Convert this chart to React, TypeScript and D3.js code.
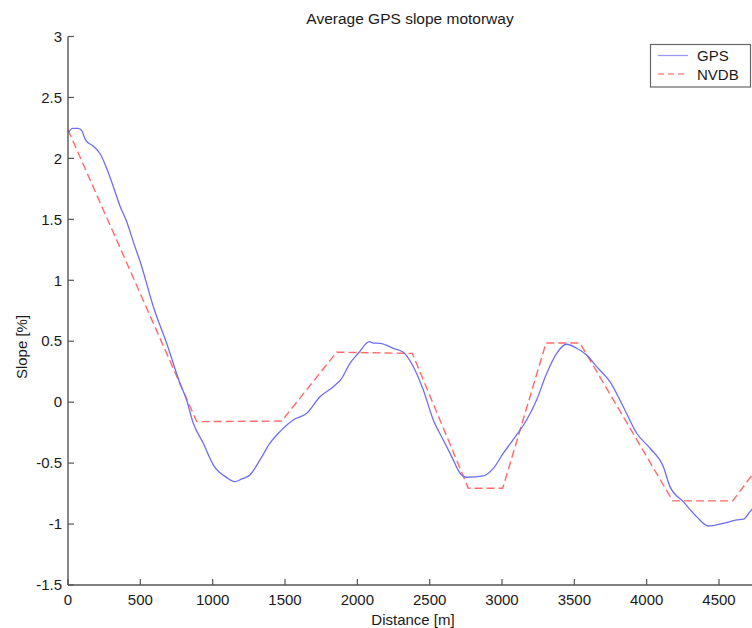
import React from "react";
import * as d3 from "d3";

// Distance along the route [m] and average GPS slope [%]
const gpsDistance = [0, 32, 71, 95, 122, 175, 221, 267, 313, 359, 406, 451, 505, 590, 682, 774, 820, 866, 935, 1004, 1097, 1154, 1200, 1258, 1327, 1396, 1465, 1557, 1650, 1742, 1834, 1892, 1949, 2007, 2083, 2110, 2157, 2249, 2318, 2387, 2456, 2525, 2594, 2652, 2710, 2756, 2871, 2940, 3009, 3101, 3170, 3239, 3309, 3378, 3447, 3516, 3585, 3654, 3746, 3838, 3931, 4023, 4115, 4161, 4253, 4345, 4426, 4530, 4622, 4668, 4713, 4740];
const gpsSlope = [2.21, 2.247, 2.247, 2.227, 2.15, 2.1, 2.04, 1.92, 1.77, 1.61, 1.48, 1.317, 1.13, 0.783, 0.483, 0.155, 0.018, -0.173, -0.337, -0.515, -0.619, -0.652, -0.63, -0.597, -0.474, -0.337, -0.242, -0.146, -0.091, 0.045, 0.127, 0.196, 0.319, 0.401, 0.496, 0.485, 0.483, 0.442, 0.409, 0.291, 0.1, -0.146, -0.31, -0.447, -0.583, -0.616, -0.605, -0.543, -0.419, -0.269, -0.146, 0.018, 0.237, 0.401, 0.475, 0.442, 0.387, 0.291, 0.168, -0.037, -0.255, -0.378, -0.529, -0.693, -0.816, -0.939, -1.016, -0.994, -0.966, -0.96, -0.9, -0.86];

// Road database (NVDB) slope profile breakpoints
const nvdbDistance = [0, 890, 1477, 1857, 2380, 2767, 3005, 3304, 3539, 4180, 4595, 4740];
const nvdbSlope = [2.235, -0.16, -0.155, 0.41, 0.4, -0.706, -0.706, 0.485, 0.485, -0.81, -0.81, -0.58];

const xTicks = [0, 500, 1000, 1500, 2000, 2500, 3000, 3500, 4000, 4500];
const yTicks = [-1.5, -1, -0.5, 0, 0.5, 1, 1.5, 2, 2.5, 3];

const W = 752;
const H = 628;
const left = 68;
const top = 36.5;
const bottom = 585;
const font = "'Liberation Sans', Arial, Helvetica, sans-serif";
const axisColor = "#555";

export default function App() {
  const x = d3.scaleLinear().domain([0, 4800]).range([left, left + 4800 * 0.14467]);
  const y = d3.scaleLinear().domain([-1.5, 3]).range([bottom, top]);

  const gpsLine = d3
    .line<[number, number]>()
    .x((d) => x(d[0]))
    .y((d) => y(d[1]))
    .curve(d3.curveMonotoneX);
  const nvdbLine = d3
    .line<[number, number]>()
    .x((d) => x(d[0]))
    .y((d) => y(d[1]));

  const gps = gpsLine(gpsDistance.map((d, i) => [d, gpsSlope[i]] as [number, number])) || "";
  const nvdb = nvdbLine(nvdbDistance.map((d, i) => [d, nvdbSlope[i]] as [number, number])) || "";

  return (
    <svg
      width={W}
      height={H}
      style={{ position: "absolute", left: 0, top: 0, background: "#fff" }}
      fontFamily={font}
    >
      <rect x={0} y={0} width={W} height={H} fill="#fff" />
      <defs>
        <clipPath id="plot">
          <rect x={left} y={top - 2} width={W - left} height={bottom - top + 4} />
        </clipPath>
      </defs>

      <text x={410} y={24} textAnchor="middle" fontSize={15.5} fill="#1a1a1a">
        Average GPS slope motorway
      </text>

      <g clipPath="url(#plot)">
        <path d={nvdb} fill="none" stroke="#ff6a6a" strokeWidth={1.4} strokeDasharray="8,4" />
        <path d={gps} fill="none" stroke="#6e6ef2" strokeWidth={1.3} />
      </g>

      {/* axes */}
      <line x1={left} x2={left} y1={top} y2={bottom} stroke={axisColor} strokeWidth={1.4} />
      <line x1={left} x2={W} y1={bottom} y2={bottom} stroke={axisColor} strokeWidth={1.4} />

      {yTicks.map((t) => (
        <g key={"y" + t}>
          <line x1={left} x2={left + 6} y1={y(t)} y2={y(t)} stroke={axisColor} strokeWidth={1.2} />
          <text x={62} y={y(t)} dy="0.35em" textAnchor="end" fontSize={15} fill="#1a1a1a">
            {t}
          </text>
        </g>
      ))}
      {xTicks.map((t) => (
        <g key={"x" + t}>
          <line x1={x(t)} x2={x(t)} y1={bottom} y2={bottom - 6} stroke={axisColor} strokeWidth={1.2} />
          <text x={x(t)} y={605} textAnchor="middle" fontSize={15} fill="#1a1a1a">
            {t}
          </text>
        </g>
      ))}

      <text x={413} y={625} textAnchor="middle" fontSize={15} fill="#1a1a1a">
        Distance [m]
      </text>
      <text
        transform={`translate(27,347) rotate(-90)`}
        textAnchor="middle"
        fontSize={15}
        fill="#1a1a1a"
      >
        Slope [%]
      </text>

      {/* legend */}
      <rect x={650.5} y={44.5} width={100} height={42.5} fill="#fff" stroke="#666" strokeWidth={1.2} />
      <line x1={658} x2={688} y1={55.5} y2={55.5} stroke="#9a9af5" strokeWidth={1.3} />
      <line x1={658} x2={688} y1={74} y2={74} stroke="#ff8a8a" strokeWidth={1.4} strokeDasharray="6,4" />
      <text x={697} y={61} fontSize={15} fill="#1a1a1a">GPS</text>
      <text x={697} y={80} fontSize={15} fill="#1a1a1a">NVDB</text>
    </svg>
  );
}
